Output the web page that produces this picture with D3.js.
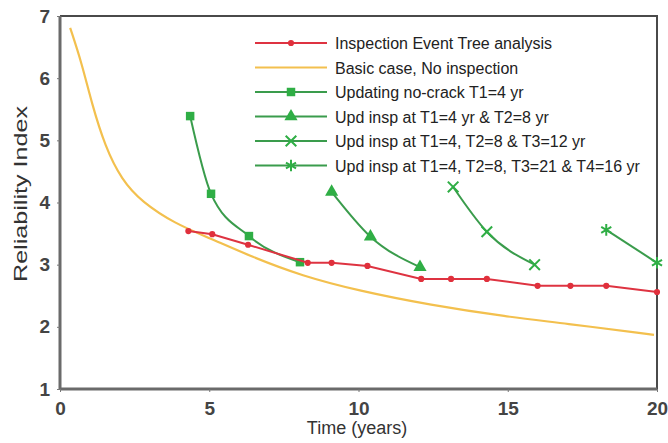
<!DOCTYPE html>
<html>
<head>
<meta charset="utf-8">
<script src="https://cdn.jsdelivr.net/npm/d3@7"></script>
<style>
  body { margin: 0; background: #fff; }
  svg { font-family: "Liberation Sans", Arial, sans-serif; }
</style>
</head>
<body>
<script>
// data
let ietX = [4.3, 5.1, 6.3, 8.3, 9.1, 10.3, 12.1, 13.1, 14.3, 16.0, 17.1, 18.3, 20];
let ietY = [3.54, 3.49, 3.32, 3.03, 3.03, 2.98, 2.77, 2.77, 2.77, 2.66, 2.66, 2.66, 2.56];

let baseX = [0.34, 0.73, 1.06, 1.51, 2.07, 2.74, 3.85, 5.0, 6.45, 8.1, 10.0, 12.4, 15.0, 16.85, 19.9];
let baseY = [6.81, 6.24, 5.6, 4.9, 4.36, 4.01, 3.66, 3.43, 3.12, 2.82, 2.58, 2.35, 2.16, 2.06, 1.87];

let upd1X = [4.36, 5.06, 6.33, 8.04];
let upd1Y = [5.39, 4.14, 3.46, 3.04];

let upd2X = [9.1, 10.4, 12.06];
let upd2Y = [4.17, 3.45, 2.96];

let upd3X = [13.17, 14.3, 15.9];
let upd3Y = [4.25, 3.53, 3.0];

let upd4X = [18.3, 20];
let upd4Y = [3.56, 3.03];

let xTicks = [0, 5, 10, 15, 20];
let yTicks = [1, 2, 3, 4, 5, 6, 7];

let legendLabels = [
  "Inspection Event Tree analysis",
  "Basic case, No inspection",
  "Updating no-crack T1=4 yr",
  "Upd insp at T1=4 yr & T2=8 yr",
  "Upd insp at T1=4, T2=8 & T3=12 yr",
  "Upd insp at T1=4, T2=8, T3=21 & T4=16 yr"
];

let red = "#de3341", yellow = "#f3c04e", green = "#3a9c4c", greenFill = "#2fae45";

let W = 668, H = 443;
let margin = { top: 16, left: 60, bottom: 54, right: 11 };

let svg = d3.select("body").append("svg")
  .attr("width", W).attr("height", H);

let x = d3.scaleLinear().domain([0, 20]).range([margin.left, W - margin.right]);
let y = d3.scaleLinear().domain([1, 7]).range([H - margin.bottom, margin.top]);

function zip(xs, ys) { return xs.map((v, i) => [v, ys[i]]); }

// frame (top and right)
svg.append("path")
  .attr("d", "M" + x(0) + "," + y(7) + "H" + x(20) + "V" + y(1))
  .attr("fill", "none").attr("stroke", "#4a4a4a").attr("stroke-width", 2);

// axes
let xAxis = svg.append("g")
  .attr("transform", "translate(0," + y(1) + ")")
  .call(d3.axisBottom(x).tickValues(xTicks).tickFormat(d3.format("d")).tickSize(3).tickPadding(10));
let yAxis = svg.append("g")
  .attr("transform", "translate(" + x(0) + ",0)")
  .call(d3.axisLeft(y).tickValues(yTicks).tickFormat(d3.format("d")).tickSize(3).tickPadding(7));

[xAxis, yAxis].forEach(g => {
  g.select(".domain").attr("stroke", "#6a6a6a").attr("stroke-width", 3);
  g.selectAll(".tick line").attr("stroke", "#777");
  g.selectAll(".tick text").attr("fill", "#444").style("font-size", "19px").style("font-weight", "bold");
});
xAxis.select(".domain").attr("d", "M" + x(0) + ",0H" + x(20));
yAxis.select(".domain").attr("d", "M0," + y(1) + "V" + y(7));

// axis labels
svg.append("text")
  .attr("x", 357).attr("y", 434)
  .attr("text-anchor", "middle")
  .style("font-size", "18px").attr("fill", "#333")
  .text("Time (years)");

svg.append("text")
  .attr("transform", "translate(27,194) rotate(-90)")
  .attr("text-anchor", "middle")
  .attr("textLength", 176).attr("lengthAdjust", "spacingAndGlyphs")
  .style("font-size", "18px").attr("fill", "#333")
  .text("Reliability Index");

let smooth = d3.line().x(d => x(d[0])).y(d => y(d[1])).curve(d3.curveMonotoneX);
let basis = d3.line().x(d => x(d[0])).y(d => y(d[1])).curve(d3.curveBasis);
let straight = d3.line().x(d => x(d[0])).y(d => y(d[1]));

// basic case
svg.append("path").datum(zip(baseX, baseY))
  .attr("d", basis).attr("fill", "none")
  .attr("stroke", yellow).attr("stroke-width", 2.2);

// marker helpers
let sym = {
  circle: d3.symbol().type(d3.symbolCircle).size(30),
  square: d3.symbol().type(d3.symbolSquare).size(72),
  triangle: d3.symbol().type(d3.symbolTriangle).size(75),
  cross: d3.symbol().type(d3.symbolX).size(75),
  star: d3.symbol().type(d3.symbolAsterisk).size(95)
};

function drawSeries(data, color, mark, fill, curve) {
  svg.append("path").datum(data)
    .attr("d", curve).attr("fill", "none")
    .attr("stroke", color).attr("stroke-width", 2);
  svg.selectAll(null).data(data).enter().append("path")
    .attr("transform", d => "translate(" + x(d[0]) + "," + y(d[1]) + ")")
    .attr("d", sym[mark])
    .attr("fill", fill)
    .attr("stroke", (mark == "cross" || mark == "star") ? fill : "none")
    .attr("stroke-width", 2);
}

drawSeries(zip(upd1X, upd1Y), green, "square", greenFill, smooth);
drawSeries(zip(upd2X, upd2Y), green, "triangle", greenFill, smooth);
drawSeries(zip(upd3X, upd3Y), green, "cross", greenFill, smooth);
drawSeries(zip(upd4X, upd4Y), green, "star", greenFill, smooth);
drawSeries(zip(ietX, ietY), red, "circle", "#e0303c", straight);

// legend
let legend = svg.append("g");
let legendMarks = ["circle", null, "square", "triangle", "cross", "star"];
let legendColors = [red, yellow, green, green, green, green];
legendLabels.forEach((lab, i) => {
  let ly = 43 + i * 24.5;
  legend.append("line")
    .attr("x1", 255).attr("x2", 327).attr("y1", ly).attr("y2", ly)
    .attr("stroke", legendColors[i]).attr("stroke-width", 2);
  if (legendMarks[i]) {
    let m = legendMarks[i];
    legend.append("path")
      .attr("transform", "translate(291," + ly + ")")
      .attr("d", sym[m])
      .attr("fill", i == 0 ? "#e0303c" : greenFill)
      .attr("stroke", (m == "cross" || m == "star") ? greenFill : "none")
      .attr("stroke-width", 2);
  }
  legend.append("text")
    .attr("x", 335).attr("y", ly + 6)
    .style("font-size", "16px").attr("fill", "#222")
    .text(lab);
});
</script>
</body>
</html>
